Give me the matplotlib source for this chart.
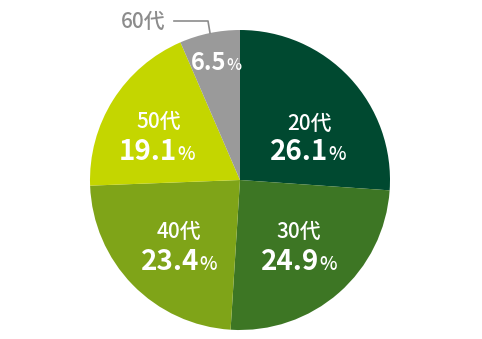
import matplotlib.pyplot as plt

labels = ['20代', '30代', '40代', '50代', '60代']
values = [26.1, 24.9, 23.4, 19.1, 6.5]
colors = ['#004930', '#3d7624', '#7fa418', '#c4d600', '#9a9a9a']

plt.rcParams['font.family'] = ['Noto Sans CJK JP', 'DejaVu Sans']

H = 339
fig = plt.figure(figsize=(4.82, 3.39), dpi=100)
ax = fig.add_axes([0, 0, 1, 1])

cx, cy, r = 240, H - 180, 150
ax.pie(values, colors=colors, startangle=90, counterclock=False,
       center=(cx, cy), radius=r, frame=True,
       wedgeprops=dict(linewidth=0))
ax.set_xlim(0, 482)
ax.set_ylim(0, H)
ax.set_aspect('equal')
ax.axis('off')

# (label center x, label baseline y, number split x, number baseline y) in pixels from top-left
pos = [(310, 130, 328, 160), (299, 238, 319, 270), (179, 238, 199, 270), (159, 128, 177, 160)]
for (lx, ly, nx, ny), lab, v in zip(pos, labels, values):
    ax.text(lx, H - ly, lab, color='white', fontsize=15, fontweight='medium',
            ha='center', va='baseline')
    ax.text(nx, H - ny, f'{v}', color='white', fontsize=20, fontweight='bold',
            ha='right', va='baseline')
    ax.text(nx, H - ny, '%', color='white', fontsize=13.5, fontweight='medium',
            ha='left', va='baseline')

# 60代 small slice
ax.text(226, H - 70, f'{values[4]}', color='white', fontsize=17, fontweight='bold',
        ha='right', va='baseline')
ax.text(226, H - 70, '%', color='white', fontsize=11.5, fontweight='medium',
        ha='left', va='baseline')
ax.text(143, H - 28, labels[4], color='#8c8c8c', fontsize=15, fontweight='medium',
        ha='center', va='baseline')
ax.plot([174, 208, 210], [H - 21, H - 21, H - 33], color='#8c8c8c', linewidth=1.2)

fig.savefig('out.png', dpi=100)
